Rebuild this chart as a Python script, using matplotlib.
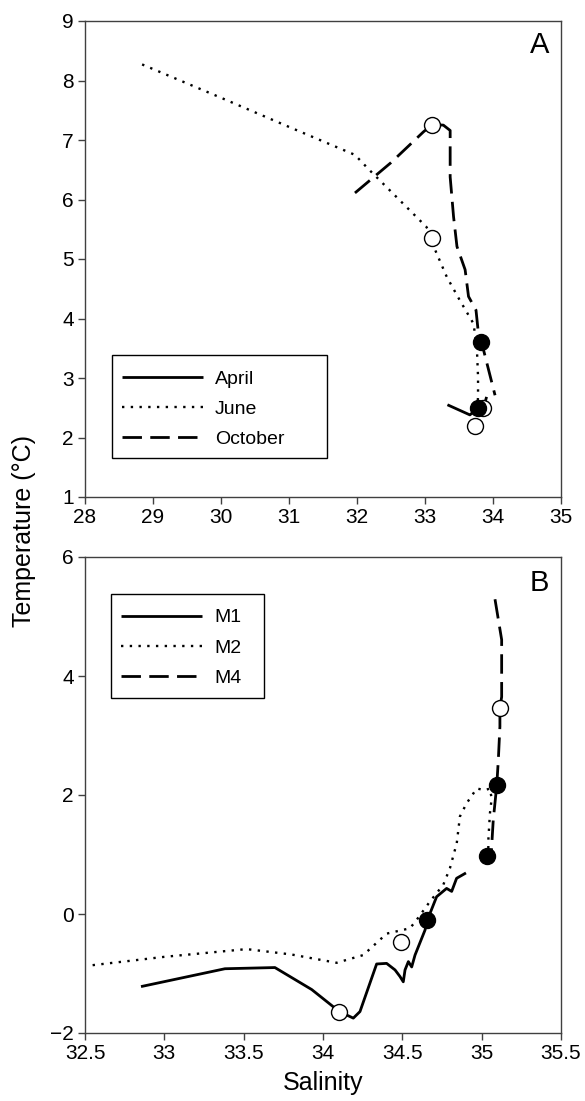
import matplotlib
matplotlib.use("Agg")
import matplotlib.pyplot as plt
from matplotlib.patches import Rectangle

plt.rcParams['font.family'] = ['Liberation Sans', 'DejaVu Sans']

# ---------------- Panel A data ----------------
april_S = [33.33, 33.66, 33.78]
april_T = [2.55, 2.38, 2.49]

june_S = [28.84, 30.0, 31.0, 31.97, 32.17, 32.6, 33.02, 33.11, 33.15, 33.32, 33.51, 33.71, 33.76, 33.78, 33.78, 33.76]
june_T = [8.27, 7.71, 7.22, 6.75, 6.51, 6.02, 5.54, 5.35, 5.15, 4.70, 4.31, 3.92, 3.58, 3.02, 2.68, 2.40]

oct_S = [31.97, 32.5, 32.98, 33.11, 33.27, 33.37, 33.37, 33.42, 33.47, 33.59, 33.64, 33.75, 33.78, 33.83, 33.91, 34.03]
oct_T = [6.11, 6.62, 7.14, 7.26, 7.25, 7.16, 6.38, 5.71, 5.21, 4.82, 4.37, 4.14, 3.81, 3.61, 3.25, 2.71]
oct_tail_S = [33.90, 33.86]
oct_tail_T = [2.66, 2.49]

A_open_S = [33.11, 33.11, 33.74, 33.86]
A_open_T = [7.26, 5.35, 2.19, 2.49]
A_fill_S = [33.83, 33.78]
A_fill_T = [3.61, 2.49]

# ---------------- Panel B data ----------------
m1_S = [32.853, 33.382, 33.697, 33.929, 34.103, 34.191, 34.233, 34.338, 34.401, 34.454,
        34.485, 34.506, 34.517, 34.538, 34.559, 34.580, 34.643, 34.658, 34.716, 34.779,
        34.811, 34.842, 34.901]
m1_T = [-1.22, -0.92, -0.90, -1.27, -1.64, -1.75, -1.64, -0.84, -0.83, -0.94,
        -1.05, -1.14, -0.94, -0.80, -0.89, -0.69, -0.27, -0.10, 0.29, 0.43,
        0.38, 0.60, 0.69]

m2_S = [32.548, 33.0, 33.519, 33.8, 34.086, 34.254, 34.401, 34.548, 34.59, 34.674, 34.758,
        34.80, 34.843, 34.863, 34.905, 34.969, 35.02, 35.052, 35.063, 35.052, 35.042, 35.042, 35.032]
m2_T = [-0.86, -0.72, -0.59, -0.68, -0.82, -0.69, -0.33, -0.24, -0.10, 0.21, 0.49,
        0.77, 1.19, 1.64, 1.86, 2.11, 2.08, 2.11, 1.94, 1.69, 1.24, 1.10, 0.99]

m4_S = [35.084, 35.126, 35.126, 35.115, 35.115, 35.105, 35.095, 35.073, 35.059]
m4_T = [5.29, 4.61, 3.65, 3.46, 3.15, 2.59, 2.16, 1.58, 0.96]

B_open_S = [34.103, 34.489, 35.115]
B_open_T = [-1.65, -0.47, 3.46]
B_fill_S = [34.658, 35.095, 35.032]
B_fill_T = [-0.10, 2.16, 0.97]

A_xticks = [28, 29, 30, 31, 32, 33, 34, 35]
A_yticks = [1, 2, 3, 4, 5, 6, 7, 8, 9]
B_xticks = [32.5, 33, 33.5, 34, 34.5, 35, 35.5]
B_xlabels = ['32.5', '33', '33.5', '34', '34.5', '35', '35.5']
B_yticks = [-2, 0, 2, 4, 6]
B_ylabels = ['\u22122', '0', '2', '4', '6']

W, H = 585, 1101
fig = plt.figure(figsize=(W / 100, H / 100), dpi=100)

def ax_rect(l, r, t, b):
    return [l / W, 1 - b / H, (r - l) / W, (b - t) / H]

axA = fig.add_axes(ax_rect(85, 561, 21, 497))
axB = fig.add_axes(ax_rect(85, 561, 557, 1033))

LW = 2.0
solid = dict(color='black', lw=LW, linestyle='-', solid_capstyle='butt')
dotted = dict(color='black', lw=1.7, linestyle=(0, (1, 2.7)))
dashed = dict(color='black', lw=LW, linestyle=(0, (7, 3)))
ms = 11.5

def style(ax):
    for sp in ax.spines.values():
        sp.set_color('#404040')
        sp.set_linewidth(1.0)
    ax.tick_params(direction='out', length=5, width=1.0, color='#404040',
                   labelsize=15, pad=3)

leg_kw = dict(loc='upper left', borderaxespad=0, fontsize=14, handlelength=4.17,
              handletextpad=0.63, labelspacing=0.64, borderpad=0, frameon=False)

# Panel A
axA.plot(april_S, april_T, label='April', **solid)
axA.plot(june_S, june_T, label='June', **dotted)
axA.plot(oct_S, oct_T, label='October', **dashed)
axA.plot(oct_tail_S, oct_tail_T, color='black', lw=LW)
axA.plot(A_open_S, A_open_T, 'o', ms=ms, mfc='white', mec='black', mew=1.0, zorder=5)
axA.plot(A_fill_S, A_fill_T, 'o', ms=ms, mfc='black', mec='black', mew=1.0, zorder=6)
axA.set_xlim(28, 35)
axA.set_ylim(1, 9)
axA.set_xticks(A_xticks)
axA.set_yticks(A_yticks)
style(axA)
axA.text(0.975, 0.95, 'A', transform=axA.transAxes, ha='right', va='center', fontsize=21)
axA.legend(bbox_to_anchor=(0.077, 0.267), **leg_kw)
axA.add_patch(Rectangle((0.0561, 0.0813), 0.4517, 0.217, transform=axA.transAxes,
                        fill=False, edgecolor='black', lw=1.0, zorder=7))

# Panel B
axB.plot(m1_S, m1_T, label='M1', **solid)
axB.plot(m2_S, m2_T, label='M2', **dotted)
axB.plot(m4_S, m4_T, label='M4', **dashed)
axB.plot(B_open_S, B_open_T, 'o', ms=ms, mfc='white', mec='black', mew=1.0, zorder=5)
axB.plot(B_fill_S, B_fill_T, 'o', ms=ms, mfc='black', mec='black', mew=1.0, zorder=6)
axB.set_xlim(32.5, 35.5)
axB.set_ylim(-2, 6)
axB.set_xticks(B_xticks)
axB.set_xticklabels(B_xlabels)
axB.set_yticks(B_yticks)
axB.set_yticklabels(B_ylabels)
style(axB)
axB.text(0.975, 0.945, 'B', transform=axB.transAxes, ha='right', va='center', fontsize=21)
axB.legend(bbox_to_anchor=(0.075, 0.891), **leg_kw)
axB.add_patch(Rectangle((0.0546, 0.7044), 0.322, 0.2172, transform=axB.transAxes,
                        fill=False, edgecolor='black', lw=1.0, zorder=7))

fig.text(24 / W, 1 - 531 / H, 'Temperature (\u00b0C)', rotation=90, ha='center', va='center', fontsize=18)
fig.text(323 / W, 1 - 1083 / H, 'Salinity', ha='center', va='center', fontsize=18)

fig.savefig('out.png', dpi=100)
